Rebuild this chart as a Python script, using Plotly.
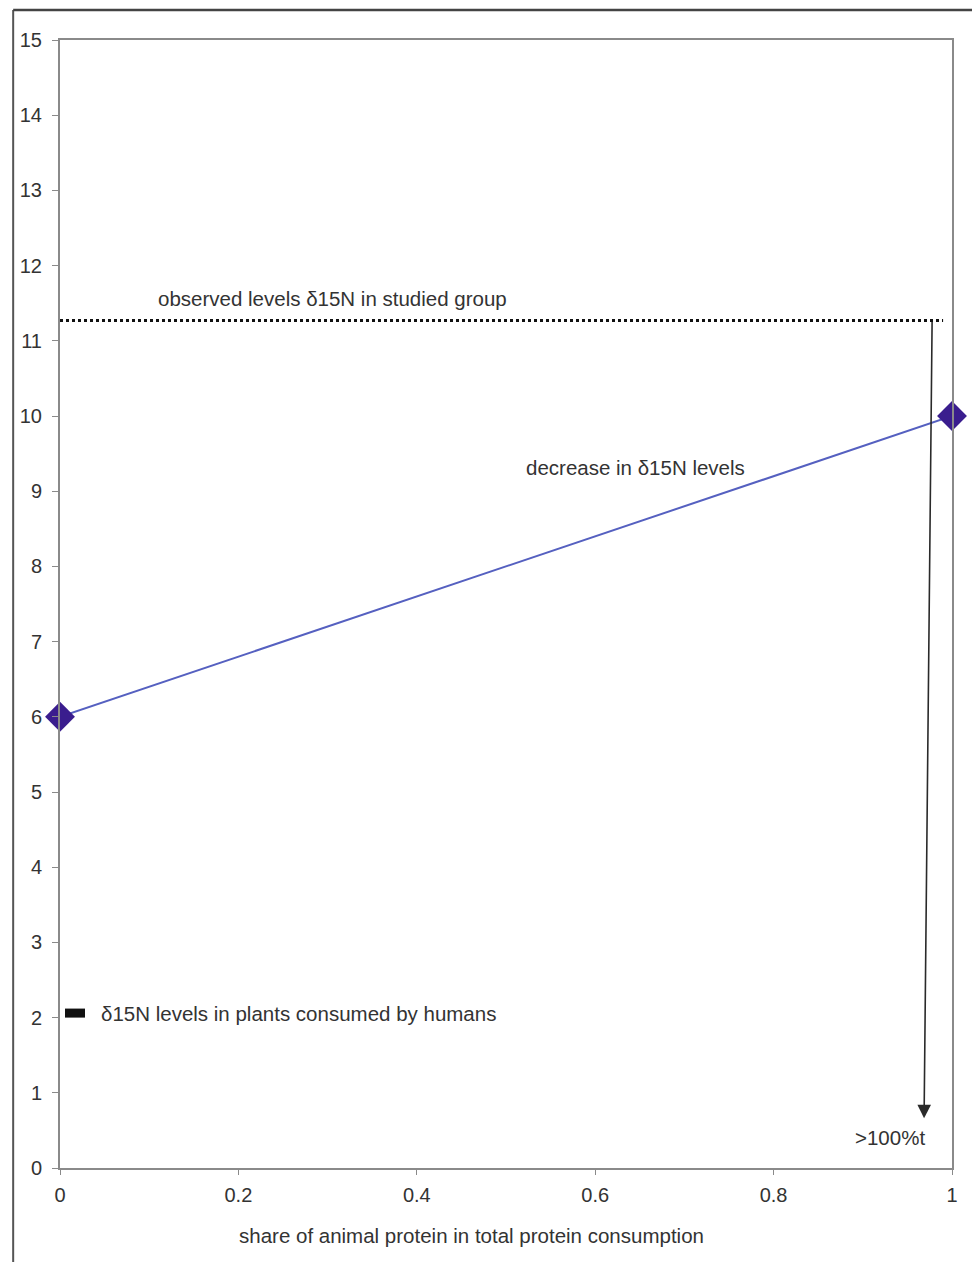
import plotly.graph_objects as go

# Data
share_animal = [0, 1]
d15n_levels = [6, 10]
observed_level = 11.27
observed_x = [0, 0.99]
plant_level = 2.06
x_ticks = [0, 0.2, 0.4, 0.6, 0.8, 1]
x_tick_labels = ["0", "0.2", "0.4", "0.6", "0.8", "1"]
y_ticks = list(range(0, 16))

FONT = "Liberation Sans, Arial, sans-serif"
TXT = "#333333"

fig = go.Figure()

# observed level dotted line
fig.add_trace(go.Scatter(
    x=observed_x, y=[observed_level, observed_level], mode="lines",
    line=dict(color="#111111", width=3, dash="dot"), hoverinfo="skip", showlegend=False))

# main line with diamonds
fig.add_trace(go.Scatter(
    x=share_animal, y=d15n_levels, mode="lines+markers",
    line=dict(color="#5560c0", width=2),
    marker=dict(symbol="diamond", size=23, color="#3a1d8e"),
    cliponaxis=False, showlegend=False))

annotations = [
    dict(x=0.305, y=11.56, xref="x", yref="y", text="observed levels δ15N in studied group",
         showarrow=False, font=dict(family=FONT, size=20.5, color=TXT)),
    dict(x=0.645, y=9.32, xref="x", yref="y", text="decrease in δ15N levels",
         showarrow=False, font=dict(family=FONT, size=20.5, color=TXT)),
    dict(x=0.044, y=plant_level, xref="x", yref="y", xanchor="left",
         text="δ15N levels in plants consumed by humans",
         showarrow=False, font=dict(family=FONT, size=20.5, color=TXT)),
    dict(x=0.931, y=0.40, xref="x", yref="y", text=">100%t",
         showarrow=False, font=dict(family=FONT, size=20.5, color=TXT)),
    dict(x=0.9687, y=0.66, xref="x", yref="y", ax=0.9777, ay=observed_level,
         axref="x", ayref="y", text="", showarrow=True, arrowhead=2,
         arrowsize=1.7, arrowwidth=1.6, arrowcolor="#2a2a2a"),
    dict(x=0.4615, y=-0.0718, xref="paper", yref="paper",
         text="share of animal protein in total protein consumption",
         showarrow=False, font=dict(family=FONT, size=20.5, color=TXT)),
]

shapes = [
    # legend swatch
    dict(type="rect", xref="x", yref="y", x0=0.0056, x1=0.028,
         y0=plant_level - 0.06, y1=plant_level + 0.06,
         fillcolor="#111111", line=dict(width=0)),
    # outer frame
    dict(type="line", xref="paper", yref="paper", x0=-0.0525, x1=-0.0525,
         y0=-0.09, y1=1.0266, line=dict(color="#555555", width=2)),
    dict(type="line", xref="paper", yref="paper", x0=-0.0525, x1=1.03,
         y0=1.0266, y1=1.0266, line=dict(color="#444444", width=2.5)),
]

fig.update_layout(
    width=964, height=1254,
    margin=dict(l=49, r=20, t=32, b=94),
    paper_bgcolor="white", plot_bgcolor="white",
    showlegend=False,
    annotations=annotations, shapes=shapes,
    font=dict(family=FONT, size=20, color=TXT),
)
fig.update_xaxes(
    range=[0, 1], tickvals=x_ticks, ticktext=x_tick_labels,
    showgrid=False, zeroline=False, showline=True, linecolor="#8a8a8a", linewidth=2,
    mirror=True, ticks="outside", ticklen=5, tickcolor="#8a8a8a", ticklabelstandoff=3,
    tickfont=dict(family=FONT, size=20, color=TXT))
fig.update_yaxes(
    range=[0, 15], tickvals=y_ticks,
    showgrid=False, zeroline=False, showline=True, linecolor="#8a8a8a", linewidth=2,
    mirror=True, ticks="outside", ticklen=6, tickcolor="#8a8a8a", ticklabelstandoff=6,
    tickfont=dict(family=FONT, size=20, color=TXT))

fig.write_html("out.html")
